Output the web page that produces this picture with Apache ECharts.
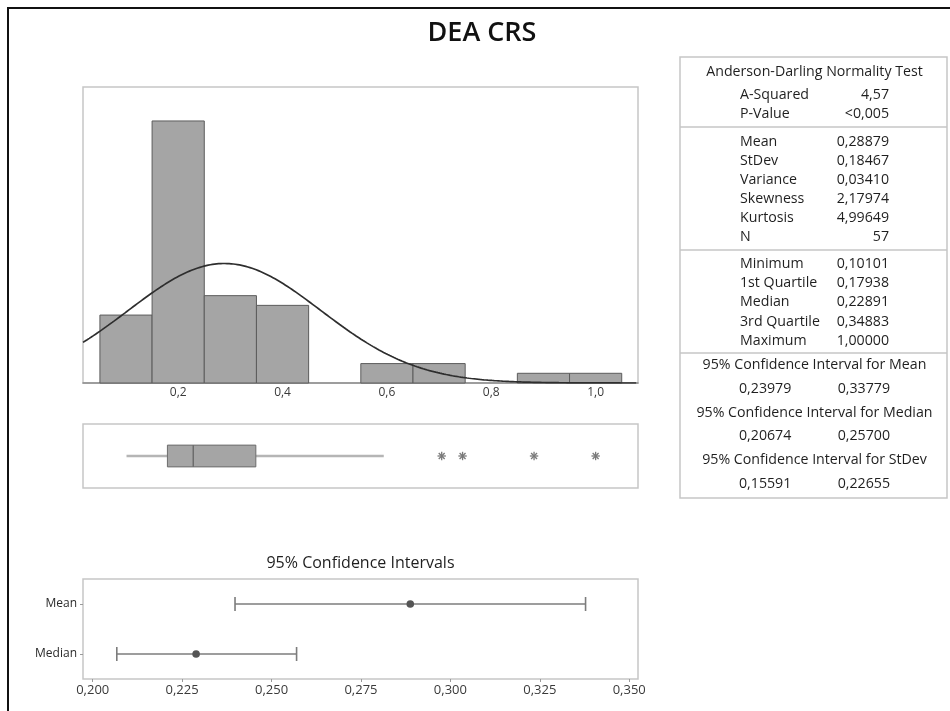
<!DOCTYPE html>
<html>
<head>
<meta charset="utf-8">
<title>DEA CRS</title>
<script src="https://cdn.jsdelivr.net/npm/echarts@6/dist/echarts.min.js"></script>
<style>
  html, body { margin: 0; padding: 0; background: #ffffff; }
  #chart { width: 950px; height: 711px; }
</style>
</head>
<body>
<div id="chart"></div>
<script>
// ---- Histogram: bin lower edges and counts (bin width 0.1) ----
const binStarts = [0.05, 0.15, 0.25, 0.35, 0.45, 0.55, 0.65, 0.75, 0.85, 0.95];
const binCounts = [7, 27, 9, 8, 0, 2, 2, 0, 1, 1];
const binWidth = 0.1;

// ---- Summary statistics used for the fitted normal curve ----
const sampleMean = 0.28879;
const sampleStDev = 0.18467;
const sampleN = 57;

// ---- Boxplot: lower whisker, Q1, median, Q3, upper whisker; outliers ----
const boxStats = [0.10101, 0.17938, 0.22891, 0.34883, 0.594];
const outliers = [0.705, 0.745, 0.882, 1.0];

// ---- Axis ticks ----
const histTicks = [0.2, 0.4, 0.6, 0.8, 1.0];
const ciTicks = [0.2, 0.225, 0.25, 0.275, 0.3, 0.325, 0.35];

// ---- 95% confidence intervals ----
const ciCategories = ['Median', 'Mean'];
const ciCenters = [0.22891, 0.28879];
const ciLower = [0.20674, 0.23979];
const ciUpper = [0.25700, 0.33779];

// ---- Summary table ----
const adTitle = 'Anderson-Darling Normality Test';
const adRows = [['A-Squared', '4,57'], ['P-Value', '<0,005']];
const momentRows = [
  ['Mean', '0,28879'], ['StDev', '0,18467'], ['Variance', '0,03410'],
  ['Skewness', '2,17974'], ['Kurtosis', '4,99649'], ['N', '57']
];
const quantileRows = [
  ['Minimum', '0,10101'], ['1st Quartile', '0,17938'], ['Median', '0,22891'],
  ['3rd Quartile', '0,34883'], ['Maximum', '1,00000']
];
const ciTableRows = [
  ['95% Confidence Interval for Mean', '0,23979', '0,33779'],
  ['95% Confidence Interval for Median', '0,20674', '0,25700'],
  ['95% Confidence Interval for StDev', '0,15591', '0,22655']
];

const FONT = "'Open Sans', 'Noto Sans', sans-serif";
const TXT = '#1f1f1f';

// Axis ranges of the histogram/boxplot panels and of the CI panel
const histMin = 0.0176, histMax = 1.0812;
const ciMin = 0.19729, ciMax = 0.35245;

// Fitted normal curve scaled to counts per bin
const curve = [];
for (let x = histMin; x <= histMax + 1e-9; x += 0.004) {
  const z = (x - sampleMean) / sampleStDev;
  const dens = Math.exp(-0.5 * z * z) / (sampleStDev * Math.sqrt(2 * Math.PI));
  curve.push([x, sampleN * binWidth * dens]);
}

const comma = (v, d) => v.toFixed(d).replace('.', ',');

// ---- Table graphics ----
const tbl = { left: 680, right: 947, top: 57, bottom: 498 };
const labelX = 740, valueX = 889, centerX = (tbl.left + tbl.right) / 2;
const tableEls = [];
tableEls.push({ type: 'rect', shape: { x: tbl.left, y: tbl.top, width: tbl.right - tbl.left, height: tbl.bottom - tbl.top },
  style: { fill: 'none', stroke: '#c6c6c6', lineWidth: 1.5 } });
[127, 250, 353].forEach(y => tableEls.push({ type: 'line',
  shape: { x1: tbl.left, y1: y, x2: tbl.right, y2: y }, style: { stroke: '#c6c6c6', lineWidth: 1.5 } }));
function txt(x, y, text, align) {
  return { type: 'text', x: x, y: y, style: { text: text, font: '14.2px ' + FONT, fill: TXT,
    textAlign: align, textVerticalAlign: 'middle' } };
}
tableEls.push(txt(centerX + 1, 72, adTitle, 'center'));
adRows.forEach((r, i) => { tableEls.push(txt(labelX, 95 + i * 18.5, r[0], 'left')); tableEls.push(txt(valueX, 95 + i * 18.5, r[1], 'right')); });
momentRows.forEach((r, i) => { tableEls.push(txt(labelX, 141.7 + i * 19, r[0], 'left')); tableEls.push(txt(valueX, 141.7 + i * 19, r[1], 'right')); });
quantileRows.forEach((r, i) => { tableEls.push(txt(labelX, 264 + i * 19.2, r[0], 'left')); tableEls.push(txt(valueX, 264 + i * 19.2, r[1], 'right')); });
ciTableRows.forEach((r, i) => {
  const y0 = 365 + i * 47.5;
  tableEls.push(txt(centerX + 1, y0, r[0], 'center'));
  tableEls.push(txt(739, y0 + 23.5, r[1], 'left'));
  tableEls.push(txt(890, y0 + 23.5, r[2], 'right'));
});

const chart = echarts.init(document.getElementById('chart'), null, { renderer: 'canvas' });

chart.setOption({
  backgroundColor: '#ffffff',
  animation: false,
  textStyle: { fontFamily: FONT },
  grid: [
    { left: 83, top: 87, width: 555, height: 296, show: true, borderColor: '#c6c6c6', borderWidth: 1.5, backgroundColor: '#fff' },
    { left: 83, top: 424, width: 555, height: 64, show: true, borderColor: '#c6c6c6', borderWidth: 1.5, backgroundColor: '#fff' },
    { left: 83, top: 579, width: 555, height: 100, show: true, borderColor: '#c6c6c6', borderWidth: 1.5, backgroundColor: '#fff' }
  ],
  xAxis: [
    { gridIndex: 0, type: 'value', min: histMin, max: histMax,
      axisLine: { show: true, lineStyle: { color: '#8a8a8a', width: 1.5 } },
      axisTick: { show: false }, splitLine: { show: false },
      axisLabel: { customValues: histTicks, formatter: v => comma(v, 1), color: '#3a3a3a', fontSize: 12, margin: 4, fontFamily: FONT } },
    { gridIndex: 1, type: 'value', min: histMin, max: histMax, show: false, splitLine: { show: false } },
    { gridIndex: 2, type: 'value', min: ciMin, max: ciMax,
      axisLine: { show: false },
      axisTick: { show: true, customValues: ciTicks, length: 3, lineStyle: { color: '#9a9a9a' } },
      splitLine: { show: false },
      axisLabel: { customValues: ciTicks, formatter: v => comma(v, 3), color: '#3a3a3a', fontSize: 13, margin: 5, fontFamily: FONT } }
  ],
  yAxis: [
    { gridIndex: 0, type: 'value', min: 0, max: 30.5, show: false, splitLine: { show: false } },
    { gridIndex: 1, type: 'value', min: 0, max: 1, show: false, splitLine: { show: false } },
    { gridIndex: 2, type: 'category', data: ciCategories,
      axisLine: { show: false },
      axisTick: { show: true, length: 3, alignWithLabel: true, lineStyle: { color: '#9a9a9a' } },
      axisLabel: { color: '#2a2a2a', fontSize: 12, margin: 6, fontFamily: FONT } }
  ],
  graphic: [
    // outer frame
    { type: 'rect', shape: { x: 8, y: 8, width: 980, height: 740 }, style: { fill: 'none', stroke: '#111', lineWidth: 2 }, z: 10 },
    { type: 'text', x: 482, y: 33, style: { text: 'DEA CRS', font: '600 27px ' + FONT, fill: '#111', textAlign: 'center', textVerticalAlign: 'middle' } },
    { type: 'text', x: 360.5, y: 563, style: { text: '95% Confidence Intervals', font: '16px ' + FONT, fill: TXT, textAlign: 'center', textVerticalAlign: 'middle' } },
    { type: 'group', children: tableEls }
  ],
  series: [
    // histogram bars
    { type: 'custom', xAxisIndex: 0, yAxisIndex: 0, z: 2,
      data: binStarts.map((s, i) => [s, s + binWidth, binCounts[i]]),
      encode: { x: [0, 1], y: 2 },
      renderItem: function (params, api) {
        const c = api.value(2);
        if (!c) return null;
        const p0 = api.coord([api.value(0), c]);
        const p1 = api.coord([api.value(1), 0]);
        return { type: 'rect', shape: { x: p0[0], y: p0[1], width: p1[0] - p0[0], height: p1[1] - p0[1] },
          style: { fill: '#a5a5a5', stroke: '#5c5c5c', lineWidth: 1 } };
      } },
    // fitted normal curve
    { type: 'line', xAxisIndex: 0, yAxisIndex: 0, z: 3, data: curve, showSymbol: false, smooth: false,
      lineStyle: { color: '#2e2e2e', width: 1.7 }, clip: true },
    // boxplot
    { type: 'custom', xAxisIndex: 1, yAxisIndex: 1, z: 2,
      data: [boxStats],
      encode: { x: [0, 1, 2, 3, 4] },
      renderItem: function (params, api) {
        const yc = 0.5;
        const h = api.size([0, 0.34])[1];
        const pLo = api.coord([api.value(0), yc]);
        const pQ1 = api.coord([api.value(1), yc]);
        const pMd = api.coord([api.value(2), yc]);
        const pQ3 = api.coord([api.value(3), yc]);
        const pHi = api.coord([api.value(4), yc]);
        const wStyle = { stroke: '#b5b5b5', lineWidth: 2.5 };
        return { type: 'group', children: [
          { type: 'line', shape: { x1: pLo[0], y1: pLo[1], x2: pQ1[0], y2: pQ1[1] }, style: wStyle },
          { type: 'line', shape: { x1: pQ3[0], y1: pQ3[1], x2: pHi[0], y2: pHi[1] }, style: wStyle },
          { type: 'rect', shape: { x: pQ1[0], y: pQ1[1] - h / 2, width: pQ3[0] - pQ1[0], height: h },
            style: { fill: '#a5a5a5', stroke: '#6c6c6c', lineWidth: 1 } },
          { type: 'line', shape: { x1: pMd[0], y1: pMd[1] - h / 2, x2: pMd[0], y2: pMd[1] + h / 2 },
            style: { stroke: '#6c6c6c', lineWidth: 1.5 } }
        ] };
      } },
    // outliers drawn as asterisks
    { type: 'custom', xAxisIndex: 1, yAxisIndex: 1, z: 3,
      data: outliers.map(v => [v, 0.5]),
      encode: { x: 0, y: 1 },
      renderItem: function (params, api) {
        const p = api.coord([api.value(0), api.value(1)]);
        const r = 4.2;
        const arms = [];
        for (let k = 0; k < 4; k++) {
          const a = k * Math.PI / 4;
          const dx = r * Math.cos(a), dy = r * Math.sin(a);
          arms.push({ type: 'line', shape: { x1: p[0] - dx, y1: p[1] - dy, x2: p[0] + dx, y2: p[1] + dy },
            style: { stroke: '#7a7a7a', lineWidth: 1.3 } });
        }
        return { type: 'group', children: arms };
      } },
    // confidence intervals for mean and median
    { type: 'custom', xAxisIndex: 2, yAxisIndex: 2, z: 3,
      data: ciCategories.map((c, i) => [i, ciLower[i], ciCenters[i], ciUpper[i]]),
      encode: { y: 0, x: [1, 2, 3] },
      renderItem: function (params, api) {
        const cat = api.value(0);
        const pL = api.coord([api.value(1), cat]);
        const pC = api.coord([api.value(2), cat]);
        const pU = api.coord([api.value(3), cat]);
        const cap = 7;
        const st = { stroke: '#7c7c7c', lineWidth: 1.6 };
        return { type: 'group', children: [
          { type: 'line', shape: { x1: pL[0], y1: pL[1], x2: pU[0], y2: pU[1] }, style: st },
          { type: 'line', shape: { x1: pL[0], y1: pL[1] - cap, x2: pL[0], y2: pL[1] + cap }, style: st },
          { type: 'line', shape: { x1: pU[0], y1: pU[1] - cap, x2: pU[0], y2: pU[1] + cap }, style: st },
          { type: 'circle', shape: { cx: pC[0], cy: pC[1], r: 3.8 }, style: { fill: '#555555' } }
        ] };
      } }
  ]
});
</script>
</body>
</html>
